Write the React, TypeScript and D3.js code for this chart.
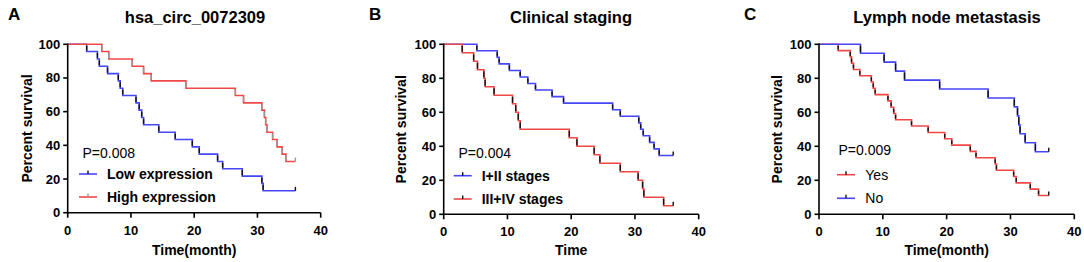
import React from "react";
import * as d3 from "d3";

const FONT = "'Liberation Sans', Arial, sans-serif";
const BLUE = "#4646f5";
const RED = "#f04848";

const panelLabels = ["A", "B", "C"];
const panelTitles = ["hsa_circ_0072309", "Clinical staging", "Lymph node metastasis"];
const xTitles = ["Time(month)", "Time", "Time(month)"];
const pValues = ["P=0.008", "P=0.004", "P=0.009"];
const xTicks = [0, 10, 20, 30, 40];
const yTicks = [0, 20, 40, 60, 80, 100];
const END_TIME = 36;

// Panel A
const lowTimes = [3.0, 4.7, 5.0, 6.3, 8.0, 8.3, 8.7, 10.8, 11.3, 11.7, 12.0, 14.4, 17.0, 19.7, 20.8, 23.7, 24.5, 27.6, 30.7, 30.9];
const lowSurv = [95.7, 91.3, 87.0, 82.6, 78.3, 73.9, 69.6, 65.2, 60.9, 56.5, 52.2, 47.8, 43.5, 39.1, 34.8, 30.4, 26.1, 21.7, 17.4, 13.0];
const highTimes = [5.4, 6.5, 10.2, 12.0, 13.2, 18.7, 26.5, 27.8, 30.7, 31.1, 31.3, 31.5, 32.4, 33.1, 33.9, 34.5];
const highSurv = [95.7, 91.3, 87.0, 82.6, 78.3, 73.9, 69.6, 65.2, 60.9, 56.5, 52.2, 47.8, 43.5, 39.1, 34.8, 30.4];

// Panel B
const earlyTimes = [5.2, 8.4, 8.7, 10.3, 12.0, 13.2, 14.4, 17.0, 18.8, 26.5, 27.7, 30.6, 30.9, 31.3, 32.3, 33.0, 33.8];
const earlySurv = [96.2, 92.3, 88.5, 84.6, 80.8, 76.9, 73.1, 69.2, 65.4, 61.5, 57.7, 53.8, 50.0, 46.2, 42.3, 38.5, 34.6];
const lateTimes = [2.9, 4.7, 5.3, 6.3, 6.5, 7.9, 10.8, 11.3, 11.7, 12.0, 19.7, 20.9, 23.6, 24.5, 27.7, 30.5, 31.2, 31.4, 34.5];
const lateSurv = [95, 90, 85, 80, 75, 70, 65, 60, 55, 50, 45, 40, 35, 30, 25, 20, 15, 10, 5];

// Panel C
const yesTimes = [3.0, 4.9, 5.1, 5.4, 6.4, 8.2, 8.5, 8.8, 10.8, 11.3, 11.7, 12.0, 14.5, 17.1, 19.7, 20.8, 23.7, 24.6, 27.6, 27.8, 30.5, 30.9, 33.1, 34.4];
const yesSurv = [96.3, 92.6, 88.9, 85.2, 81.5, 77.8, 74.1, 70.4, 66.7, 63.0, 59.3, 55.6, 51.9, 48.1, 44.4, 40.7, 37.0, 33.3, 29.6, 25.9, 22.2, 18.5, 14.8, 11.1];
const noTimes = [6.5, 10.2, 12.0, 13.4, 18.9, 26.5, 30.6, 31.1, 31.3, 31.5, 32.3, 33.9];
const noSurv = [94.7, 89.5, 84.2, 78.9, 73.7, 68.4, 63.2, 57.9, 52.6, 47.4, 42.1, 36.8];

type Series = { name: string; times: number[]; surv: number[]; color: string; vColor: string };
type Panel = {
  x0: number; x1: number; yTop: number; yBot: number;
  labelX: number; titleX: number; yTitleX: number;
  pX: number; pY: number; legX: number; legTextX: number; legY: number[]; legBold: boolean;
  series: Series[];
};

const panels: Panel[] = [
  {
    x0: 67.7, x1: 320.7, yTop: 44.3, yBot: 212.7, labelX: 8, titleX: 195, yTitleX: 27,
    pX: 82.5, pY: 157.5, legX: 79, legTextX: 107, legY: [174, 197], legBold: true,
    series: [
      { name: "Low expression", times: lowTimes, surv: lowSurv, color: BLUE, vColor: "#111" },
      { name: "High expression", times: highTimes, surv: highSurv, color: RED, vColor: "#999" },
    ],
  },
  {
    x0: 443.7, x1: 698.7, yTop: 44.3, yBot: 214.3, labelX: 369, titleX: 571, yTitleX: 401,
    pX: 458.5, pY: 158, legX: 453.7, legTextX: 481.7, legY: [175.7, 199], legBold: true,
    series: [
      { name: "I+II stages", times: earlyTimes, surv: earlySurv, color: BLUE, vColor: "#111" },
      { name: "III+IV stages", times: lateTimes, surv: lateSurv, color: RED, vColor: "#111" },
    ],
  },
  {
    x0: 819, x1: 1074.3, yTop: 44.3, yBot: 214.3, labelX: 744, titleX: 947, yTitleX: 777,
    pX: 838.5, pY: 155, legX: 837, legTextX: 865.3, legY: [174.7, 198.3], legBold: false,
    series: [
      { name: "Yes", times: yesTimes, surv: yesSurv, color: RED, vColor: "#111" },
      { name: "No", times: noTimes, surv: noSurv, color: BLUE, vColor: "#111" },
    ],
  },
];

function KMPanel({ p, i }: { p: Panel; i: number }) {
  const x = d3.scaleLinear().domain([0, 40]).range([p.x0, p.x1]);
  const y = d3.scaleLinear().domain([0, 100]).range([p.yBot, p.yTop]);
  const line = d3.line<[number, number]>().x((d) => x(d[0])).y((d) => y(d[1])).curve(d3.curveStepAfter);
  const cx = (p.x0 + p.x1) / 2;
  return (
    <g>
      <text x={p.labelX} y={20} fontSize={17} fontWeight="bold" fontFamily={FONT}>{panelLabels[i]}</text>
      <text x={p.titleX} y={22.5} fontSize={16.5} fontWeight="bold" fontFamily={FONT} textAnchor="middle">{panelTitles[i]}</text>
      {p.series.map((s, si) => {
        const pts: [number, number][] = [[0, 100]];
        s.times.forEach((t, k) => pts.push([t, s.surv[k]]));
        pts.push([END_TIME, s.surv[s.surv.length - 1]]);
        const last = s.surv[s.surv.length - 1];
        return (
          <g key={si}>
            <path d={line(pts) || ""} fill="none" stroke={s.color} strokeWidth={1.6} />
            {s.times.map((t, k) => {
              const prev = k === 0 ? 100 : s.surv[k - 1];
              return (
                <line key={k} x1={x(t)} x2={x(t)} y1={y(prev) + 1.5} y2={y(s.surv[k]) - 1}
                  stroke={s.vColor} strokeWidth={1.4} />
              );
            })}
            <line x1={x(END_TIME)} x2={x(END_TIME)} y1={y(last) - 4} y2={y(last)} stroke={s.vColor} strokeWidth={1.4} />
          </g>
        );
      })}
      {/* axes */}
      <line x1={p.x0} x2={p.x0} y1={p.yTop - 0.8} y2={p.yBot + 0.8} stroke="#000" strokeWidth={1.6} />
      <line x1={p.x0} x2={p.x1} y1={p.yBot} y2={p.yBot} stroke="#000" strokeWidth={1.6} />
      {yTicks.map((t) => (
        <g key={"y" + t}>
          <line x1={p.x0 - 4.5} x2={p.x0} y1={y(t)} y2={y(t)} stroke="#000" strokeWidth={1.6} />
          <text x={p.x0 - 7.5} y={y(t) + 4.5} fontSize={13} fontWeight="bold" fontFamily={FONT} textAnchor="end">{t}</text>
        </g>
      ))}
      {xTicks.map((t) => (
        <g key={"x" + t}>
          <line x1={x(t)} x2={x(t)} y1={p.yBot} y2={p.yBot + 5} stroke="#000" strokeWidth={1.6} />
          <text x={x(t)} y={p.yBot + 22} fontSize={13} fontWeight="bold" fontFamily={FONT} textAnchor="middle">{t}</text>
        </g>
      ))}
      <text x={cx} y={254.5} fontSize={14} fontWeight="bold" fontFamily={FONT} textAnchor="middle">{xTitles[i]}</text>
      <text transform={`translate(${p.yTitleX + 5},${(p.yTop + p.yBot) / 2}) rotate(-90)`} fontSize={14}
        fontWeight="bold" fontFamily={FONT} textAnchor="middle">Percent survival</text>
      <text x={p.pX} y={p.pY} fontSize={14} fontFamily={FONT}>{pValues[i]}</text>
      {p.series.map((s, si) => (
        <g key={"l" + si}>
          <line x1={p.legX} x2={p.legX + 18} y1={p.legY[si]} y2={p.legY[si]} stroke={s.color} strokeWidth={1.6} />
          <line x1={p.legX + 9} x2={p.legX + 9} y1={p.legY[si] - 3.5} y2={p.legY[si]} stroke={s.vColor} strokeWidth={1.4} />
          <text x={p.legTextX} y={p.legY[si] + 5} fontSize={14} fontWeight={p.legBold ? "bold" : "normal"} fontFamily={FONT}>{s.name}</text>
        </g>
      ))}
    </g>
  );
}

export default function App() {
  return (
    <svg width={1084} height={262} style={{ position: "absolute", left: 0, top: 0, background: "#fff" }}>
      <rect width={1084} height={262} fill="#fff" />
      {panels.map((p, i) => <KMPanel key={i} p={p} i={i} />)}
    </svg>
  );
}
